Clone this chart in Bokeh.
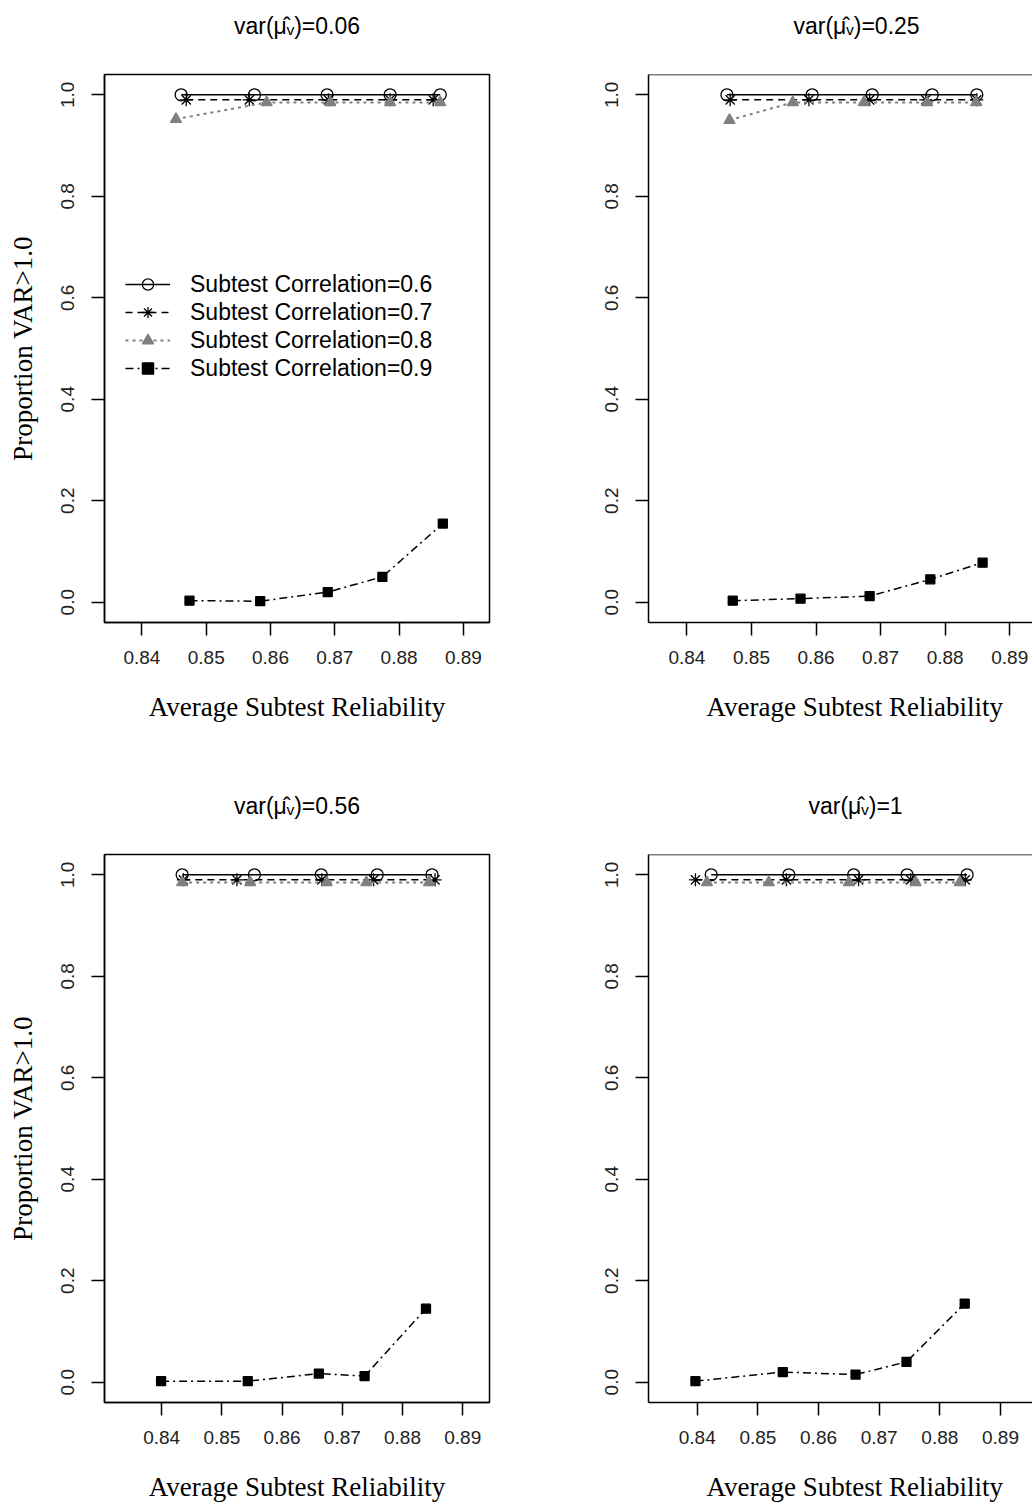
from bokeh.plotting import figure
from bokeh.layouts import row, column
from bokeh.models import (FixedTicker, PrintfTickFormatter, Legend, LegendItem,
                          Title, Range1d, Span)
from bokeh.embed import file_html
from bokeh.resources import INLINE

# ---------------- data ----------------
panel_titles = ["var(μ̂ᵥ)=0.06", "var(μ̂ᵥ)=0.25", "var(μ̂ᵥ)=0.56", "var(μ̂ᵥ)=1"]
series_names = ["Subtest Correlation=0.6", "Subtest Correlation=0.7",
                "Subtest Correlation=0.8", "Subtest Correlation=0.9"]
x_ticks = [0.84, 0.85, 0.86, 0.87, 0.88, 0.89]
y_ticks = [0.0, 0.2, 0.4, 0.6, 0.8, 1.0]
x_axis_title = "Average Subtest Reliability"
y_axis_title = "Proportion VAR>1.0"

# panel 1: var = 0.06
p1_x_r06 = [0.8461, 0.8575, 0.8688, 0.8786, 0.8864]
p1_y_r06 = [1.0, 1.0, 1.0, 1.0, 1.0]
p1_x_r07 = [0.8469, 0.8567, 0.8690, 0.8786, 0.8853]
p1_y_r07 = [0.99, 0.99, 0.99, 0.99, 0.99]
p1_x_r08 = [0.8453, 0.8594, 0.8693, 0.8786, 0.8864]
p1_y_r08 = [0.952, 0.985, 0.985, 0.985, 0.985]
p1_x_r09 = [0.8474, 0.8584, 0.8689, 0.8774, 0.8868]
p1_y_r09 = [0.003, 0.002, 0.02, 0.05, 0.155]

# panel 2: var = 0.25
p2_x_r06 = [0.8462, 0.8594, 0.8687, 0.8780, 0.8849]
p2_y_r06 = [1.0, 1.0, 1.0, 1.0, 1.0]
p2_x_r07 = [0.8467, 0.8589, 0.8683, 0.8770, 0.8849]
p2_y_r07 = [0.99, 0.99, 0.99, 0.99, 0.99]
p2_x_r08 = [0.8466, 0.8564, 0.8674, 0.8772, 0.8848]
p2_y_r08 = [0.95, 0.985, 0.985, 0.985, 0.985]
p2_x_r09 = [0.8471, 0.8576, 0.8683, 0.8777, 0.8858]
p2_y_r09 = [0.003, 0.007, 0.012, 0.045, 0.078]

# panel 3: var = 0.56
p3_x_r06 = [0.8434, 0.8554, 0.8665, 0.8758, 0.8849]
p3_y_r06 = [1.0, 1.0, 1.0, 1.0, 1.0]
p3_x_r07 = [0.8436, 0.8525, 0.8666, 0.8752, 0.8854]
p3_y_r07 = [0.99, 0.99, 0.99, 0.99, 0.99]
p3_x_r08 = [0.8434, 0.8547, 0.8674, 0.8740, 0.8844]
p3_y_r08 = [0.985, 0.985, 0.985, 0.985, 0.985]
p3_x_r09 = [0.8399, 0.8543, 0.8661, 0.8737, 0.8839]
p3_y_r09 = [0.002, 0.002, 0.017, 0.012, 0.145]

# panel 4: var = 1
p4_x_r06 = [0.8423, 0.8551, 0.8658, 0.8746, 0.8845]
p4_y_r06 = [1.0, 1.0, 1.0, 1.0, 1.0]
p4_x_r07 = [0.8397, 0.8547, 0.8666, 0.8752, 0.8842]
p4_y_r07 = [0.99, 0.99, 0.99, 0.99, 0.99]
p4_x_r08 = [0.8416, 0.8518, 0.8650, 0.8760, 0.8833]
p4_y_r08 = [0.985, 0.985, 0.985, 0.985, 0.985]
p4_x_r09 = [0.8397, 0.8541, 0.8661, 0.8745, 0.8841]
p4_y_r09 = [0.002, 0.02, 0.015, 0.04, 0.155]

# visible x extent of each panel's plotting region
p1_xrange = (0.83418, 0.89406)
p2_xrange = (0.83405, 0.89353)
p3_xrange = (0.83050, 0.89445)
p4_xrange = (0.83196, 0.89528)

# ---------------- styles ----------------
GREY = "#808080"
styles = [
    dict(color="black", dash="solid", lw=1.5, marker="circle", size=12, fill=None),
    dict(color="black", dash="7 5", lw=1.5, marker="asterisk", size=13, fill=None),
    dict(color=GREY, dash="3 4", lw=2, marker="triangle", size=11, fill=GREY),
    dict(color="black", dash="8 4 2 4", lw=1.5, marker="square", size=9, fill="black"),
]

LEFT_W, RIGHT_W = 544, 488
TOP_H, BOT_H = 780, 724
FRAME_H = 548


def spacer(px):
    # empty title used only to reserve vertical space next to the frame
    return Title(text=" ", text_font_size="10px", standoff=px)


def make_panel(title, xs, ys, xr, height, left_panel, with_legend,
               title_off=0, xlab_off=0):
    width = LEFT_W if left_panel else RIGHT_W
    b_right = LEFT_W - 104 - 385 if left_panel else 0
    p = figure(width=width, height=height, x_range=Range1d(*xr),
               y_range=Range1d(-0.04, 1.04), output_backend="svg",
               toolbar_location=None, tools="", title_location=None,
               min_border_left=104, min_border_right=b_right,
               min_border_top=74, min_border_bottom=height - 74 - FRAME_H,
               background_fill_color="white", border_fill_color="white")
    p.grid.visible = False

    # panel title (above), with a spacer between it and the frame
    mt = Title(text=title, text_font="Liberation Sans", text_font_size="23px",
               text_font_style="normal", text_color="black", standoff=0,
               vertical_align="bottom")
    if left_panel:
        mt.align = "center"
    else:
        mt.align = "left"
        mt.offset = title_off
    p.add_layout(spacer(22.5), "above")
    p.add_layout(mt, "above")

    if left_panel:
        p.outline_line_color = "black"
        p.outline_line_width = 1.5
    else:
        p.outline_line_color = None
        p.add_layout(Span(location=1.04, dimension="width", line_color="black",
                          line_width=1.5))

    for ax in (p.xaxis[0], p.yaxis[0]):
        ax.axis_line_color = "black"
        ax.axis_line_width = 1.5
        ax.major_tick_line_color = "black"
        ax.major_tick_line_width = 1.5
        ax.major_tick_in = 0
        ax.major_tick_out = 13
        ax.minor_tick_line_color = None
        ax.major_label_text_font = "Liberation Sans"
        ax.major_label_text_font_size = "19px"
        ax.major_label_text_color = "#222222"
    p.xaxis.major_label_standoff = 15
    p.yaxis.major_label_standoff = 17

    p.xaxis.ticker = FixedTicker(ticks=x_ticks)
    p.xaxis.formatter = PrintfTickFormatter(format="%.2f")
    p.yaxis.ticker = FixedTicker(ticks=y_ticks)
    p.yaxis.formatter = PrintfTickFormatter(format="%.1f")
    p.yaxis.major_label_orientation = "vertical"

    if left_panel:
        p.yaxis.axis_label = y_axis_title
        p.yaxis.axis_label_text_font = "Liberation Serif"
        p.yaxis.axis_label_text_font_size = "27px"
        p.yaxis.axis_label_text_font_style = "normal"
        p.yaxis.axis_label_text_color = "black"
        p.yaxis.axis_label_standoff = 21

    # x-axis title (below), with a spacer between it and the axis
    xt = Title(text=x_axis_title, text_font="Liberation Serif",
               text_font_size="27px", text_font_style="normal",
               text_color="black", standoff=0, vertical_align="bottom")
    if left_panel:
        xt.align = "center"
    else:
        xt.align = "left"
        xt.offset = xlab_off
    p.add_layout(spacer(9.5), "below")
    p.add_layout(xt, "below")

    items = []
    for name, x, y, st in zip(series_names, xs, ys, styles):
        lr = p.line(x, y, line_color=st["color"], line_dash=st["dash"],
                    line_width=st["lw"])
        sr = p.scatter(x, y, marker=st["marker"], size=st["size"],
                       line_color=st["color"], line_width=1.3,
                       fill_color=st["fill"])
        items.append(LegendItem(label=name, renderers=[lr, sr]))

    if with_legend:
        leg = Legend(items=items, location=(21, 240), orientation="vertical",
                     glyph_width=45, glyph_height=28, label_height=28,
                     spacing=0, padding=0, margin=0, label_standoff=20,
                     label_text_font="Liberation Sans",
                     label_text_font_size="23px", label_text_color="black",
                     background_fill_alpha=0, border_line_alpha=0)
        p.add_layout(leg)
    return p


p1 = make_panel(panel_titles[0], [p1_x_r06, p1_x_r07, p1_x_r08, p1_x_r09],
                [p1_y_r06, p1_y_r07, p1_y_r08, p1_y_r09], p1_xrange,
                TOP_H, True, True)
p2 = make_panel(panel_titles[1], [p2_x_r06, p2_x_r07, p2_x_r08, p2_x_r09],
                [p2_y_r06, p2_y_r07, p2_y_r08, p2_y_r09], p2_xrange,
                TOP_H, False, False, title_off=145, xlab_off=58)
p3 = make_panel(panel_titles[2], [p3_x_r06, p3_x_r07, p3_x_r08, p3_x_r09],
                [p3_y_r06, p3_y_r07, p3_y_r08, p3_y_r09], p3_xrange,
                BOT_H, True, False)
p4 = make_panel(panel_titles[3], [p4_x_r06, p4_x_r07, p4_x_r08, p4_x_r09],
                [p4_y_r06, p4_y_r07, p4_y_r08, p4_y_r09], p4_xrange,
                BOT_H, False, False, title_off=160, xlab_off=58)

layout = column(row(p1, p2, spacing=0), row(p3, p4, spacing=0), spacing=0)

with open("out.html", "w") as f:
    f.write(file_html(layout, INLINE))
